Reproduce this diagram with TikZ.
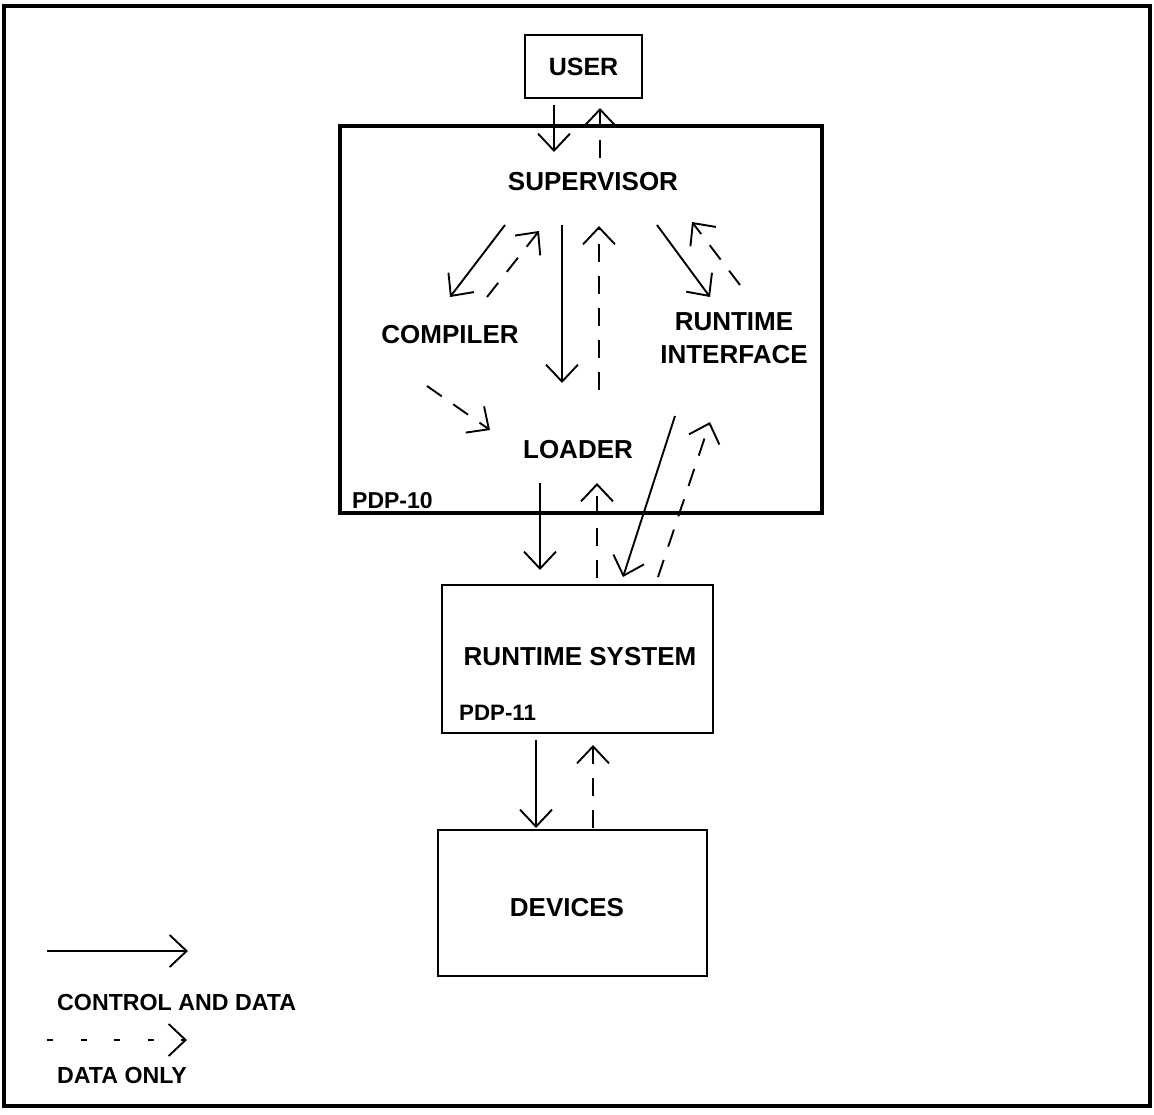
\documentclass[tikz,border=0pt]{standalone}
\usepackage{fontspec}
\setmainfont{Liberation Sans}
\usetikzlibrary{arrows.meta,calc}

\tikzset{
  lbl/.style={inner sep=0pt, font=\bfseries\fontsize{26pt}{33pt}\selectfont, align=center},
  tag/.style={inner sep=0pt, font=\bfseries\fontsize{23pt}{25pt}\selectfont},
  legendtxt/.style={inner sep=0pt, font=\bfseries\fontsize{23.2pt}{28pt}\selectfont, anchor=west},
  box/.style={draw, line width=2.8pt, inner sep=0pt, font=\bfseries\fontsize{25pt}{33pt}\selectfont},
  ctl/.style={line width=1.9pt, -{Straight Barb[length=17pt,width=32pt,line width=1.9pt]}},
  dat/.style={ctl, dash pattern=on 18pt off 14pt},
  datsparse/.style={ctl, dash pattern=on 6pt off 27.5pt},
}

\begin{document}
\begin{tikzpicture}[x=1pt,y=-1pt]
\useasboundingbox (0,0) rectangle (1154,1114);

% outer frame
\draw[line width=3.2pt] (4,6) rectangle (1150,1106);

% boxes
\node[box, minimum width=117pt, minimum height=63pt] (user) at (583.5,66.5) {USER};
\node[draw, line width=3.8pt, minimum width=482pt, minimum height=387pt, inner sep=0pt] (pdp10) at (581,319.5) {};
\node[box, minimum width=271pt, minimum height=148pt] (rts) at (577.5,659) {};
\node[box, minimum width=269pt, minimum height=146pt] (dev) at (572.5,903) {};

% texts inside the PDP-10
\node[lbl] (sup) at (593,182) {SUPERVISOR};
\node[lbl] (comp) at (450,335) {COMPILER};
\node[lbl] (rti) at (734,338) {RUNTIME\\INTERFACE};
\node[lbl] (loader) at (578,450) {LOADER};
\node[tag, anchor=base west] (p10) at (352,508) {PDP-10};

% texts inside the lower boxes
\node[lbl] (rtstxt) at (580,657) {RUNTIME SYSTEM};
\node[tag, anchor=west, font=\bfseries\fontsize{22.3pt}{25pt}\selectfont] (p11) at (459,713) {PDP-11};
\node[lbl] (devtxt) at (567,908) {DEVICES};

% user <-> supervisor
\draw[ctl] ($(user)+(-29.5,38.5)$) -- ($(sup)+(-39,-30)$);
\draw[dat] ($(sup)+(7,-24)$) -- ($(user)+(16.5,41.5)$);

% supervisor <-> compiler
\draw[ctl] ($(sup)+(-88,43)$) -- ($(comp)+(0,-38)$);
\draw[dat] ($(comp)+(37,-38)$) -- ($(sup)+(-54,49)$);

% supervisor <-> loader
\draw[ctl] ($(sup)+(-31,43)$) -- ($(loader)+(-16,-67)$);
\draw[dat] ($(loader)+(21,-60)$) -- ($(sup)+(6,44)$);

% supervisor <-> runtime interface
\draw[ctl] ($(sup)+(64,43)$) -- ($(rti)+(-24,-41)$);
\draw[dat] ($(rti)+(6,-53)$) -- ($(sup)+(99,40)$);

% compiler -> loader
\draw[dat] ($(comp)+(-23,51)$) -- ($(loader)+(-88,-20)$);

% runtime interface <-> runtime system
\draw[ctl] ($(rti)+(-59,78)$) -- ($(rts)+(45.5,-82)$);
\draw[dat] ($(rts)+(80.5,-82)$) -- ($(rti)+(-24,84)$);

% loader <-> runtime system
\draw[ctl] ($(loader)+(-38,33)$) -- ($(rts)+(-37.5,-89)$);
\draw[dat] ($(rts)+(19.5,-81)$) -- ($(loader)+(19,33)$);

% runtime system <-> devices
\draw[ctl] ($(rts)+(-41.5,81)$) -- ($(dev)+(-36.5,-75)$);
\draw[dat] ($(dev)+(20.5,-75)$) -- ($(rts)+(15.5,86)$);

% legend
\coordinate (k1a) at (47,951);
\coordinate (k1b) at (188,951);
\coordinate (k2a) at (47,1040);
\coordinate (k2b) at (187,1040);
\draw[ctl] (k1a) -- (k1b);
\node[legendtxt] (kt1) at (57,1002) {CONTROL AND DATA};
\draw[datsparse] (k2a) -- (k2b);
\node[legendtxt] (kt2) at (57,1075) {DATA ONLY};
\end{tikzpicture}
\end{document}
